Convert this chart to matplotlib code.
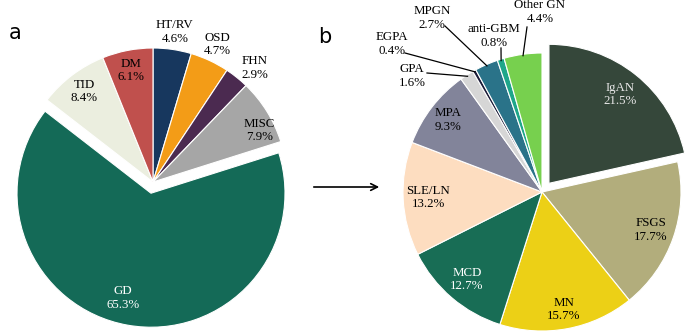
import numpy as np
import matplotlib.pyplot as plt

# panel a: all kidney disease categories (clockwise from 12 o'clock)
a_labels = ['HT/RV', 'OSD', 'FHN', 'MISC', 'GD', 'TID', 'DM']
a_values = [4.6, 4.7, 2.9, 7.9, 65.3, 8.4, 6.1]
a_colors = ['#17375E', '#F39C17', '#4B2A50', '#A6A6A6', '#146A57', '#EBEEDF', '#C0504D']
a_explode = [0, 0, 0, 0, 0.085, 0, 0]
a_labdist = [1.13, 1.13, 1.14, 0.88, 0.81, 0.85, 0.85]
a_angoff = [0, 0, -3, -6, -5, 0, 0]
a_txtcol = ['k', 'k', 'k', 'k', 'w', 'k', 'k']

# panel b: glomerular disease breakdown
b_labels = ['IgAN', 'FSGS', 'MN', 'MCD', 'SLE/LN', 'MPA', 'GPA', 'EGPA', 'MPGN', 'anti-GBM', 'Other GN']
b_values = [21.5, 17.7, 15.7, 12.7, 13.2, 9.3, 1.6, 0.4, 2.7, 0.8, 4.4]
b_colors = ['#35473A', '#B2AD7C', '#ECD016', '#186D55', '#FDDDC0', '#82849A', '#D6D6D6',
            '#1B1B38', '#2A7389', '#1EA68A', '#77D04E']
b_explode = [0.08, 0, 0, 0, 0, 0, 0, 0, 0, 0, 0]
b_labdist = [0.82, 0.83, 0.86, 0.83, 0.82, 0.85]
b_txtcol = ['#E8E8E8', 'k', 'k', 'w', 'k', 'k']
# small slices labelled outside with leader lines: (text x, text y) in pixels
b_out_text = {'GPA': (412, 76), 'EGPA': (392, 44), 'MPGN': (432, 18),
              'anti-GBM': (494, 36), 'Other GN': (540, 12)}
b_out_start = {'GPA': (427, 73), 'EGPA': (405, 53), 'MPGN': (445, 26),
               'anti-GBM': (501, 48), 'Other GN': (527, 27)}

W, H = 685, 333
fig = plt.figure(figsize=(6.85, 3.33), dpi=100)
ax = fig.add_axes([0, 0, 1, 1])
ax.set_xlim(0, W)
ax.set_ylim(0, H)
ax.set_aspect('equal')
ax.axis('off')

serif = 'Liberation Serif'
fs = 9.3


def pos(px, py):
    return px, H - py


def draw_pie(values, colors, explode, center, r):
    # matplotlib's explode is in data units, so scale by the radius
    wedges, _ = ax.pie(values, colors=colors, explode=[e * r for e in explode],
                       startangle=90, counterclock=False, center=center, radius=r,
                       wedgeprops=dict(edgecolor='white', linewidth=0.8),
                       frame=True)
    return wedges


# panel a
ca, ra = pos(153, 182), 134
wa = draw_pie(a_values, a_colors, a_explode, ca, ra)
for w, lab, v, d, off, tc in zip(wa, a_labels, a_values, a_labdist, a_angoff, a_txtcol):
    ang = np.deg2rad((w.theta1 + w.theta2) / 2 + off)
    cx, cy = w.center
    ax.text(cx + d * ra * np.cos(ang), cy + d * ra * np.sin(ang), f'{lab}\n{v}%',
            ha='center', va='center', fontsize=fs, family=serif, color=tc, linespacing=1.15)

# panel b
cb, rb = pos(542, 192), 139
wb = draw_pie(b_values, b_colors, b_explode, cb, rb)
for i, (w, lab, v) in enumerate(zip(wb, b_labels, b_values)):
    ang_deg = (w.theta1 + w.theta2) / 2
    cx, cy = w.center
    if i < len(b_labdist):
        ang = np.deg2rad(ang_deg)
        d = b_labdist[i]
        ax.text(cx + d * rb * np.cos(ang), cy + d * rb * np.sin(ang), f'{lab}\n{v}%',
                ha='center', va='center', fontsize=fs, family=serif, color=b_txtcol[i],
                linespacing=1.15)
    else:
        ang = np.deg2rad(ang_deg)
        ex, ey = cx + 0.99 * rb * np.cos(ang), cy + 0.99 * rb * np.sin(ang)
        sx, sy = pos(*b_out_start[lab])
        ax.plot([sx, ex], [sy, ey], color='black', lw=0.9)
        tx, ty = pos(*b_out_text[lab])
        ax.text(tx, ty, f'{lab}\n{v}%', ha='center', va='center', fontsize=fs,
                family=serif, color='k', linespacing=1.15)

ax.set_xlim(0, W)
ax.set_ylim(0, H)

# arrow between panels
ax.annotate('', xy=pos(382, 187), xytext=pos(311, 187),
            arrowprops=dict(arrowstyle='->', color='black', lw=1.2, mutation_scale=12))

# panel letters
ax.text(*pos(15, 33), 'a', fontsize=15, family='DejaVu Sans', ha='center', va='center')
ax.text(*pos(325, 37), 'b', fontsize=15, family='DejaVu Sans', ha='center', va='center')

fig.savefig('out.png', dpi=100)
